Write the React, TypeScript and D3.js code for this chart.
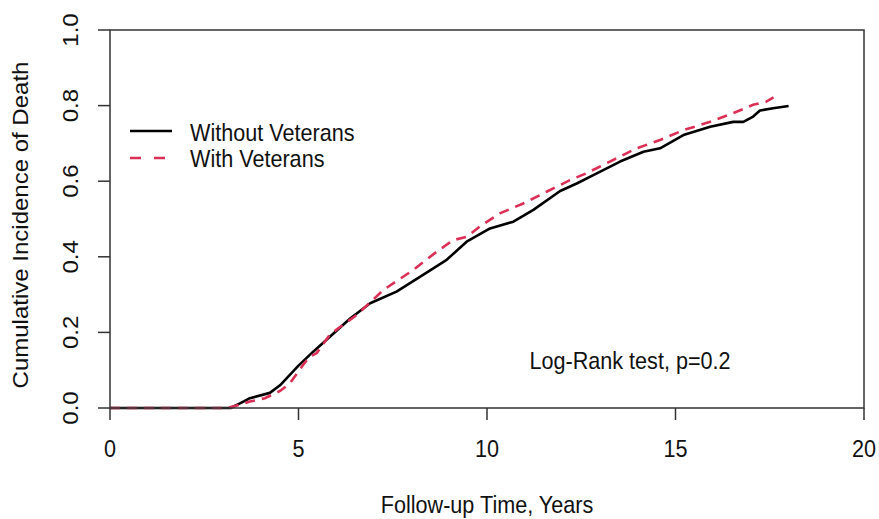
import React from "react";
import * as d3 from "d3";

const withoutVeterans: [number, number][] = [
  [0, 0], [3.2, 0], [3.5, 0.015], [3.71, 0.026], [4.24, 0.04], [4.51, 0.06], [5.0, 0.112],
  [5.39, 0.149], [5.84, 0.189], [6.37, 0.237], [6.9, 0.277], [7.6, 0.308], [8.22, 0.347],
  [8.93, 0.392], [9.46, 0.44], [10.08, 0.475], [10.7, 0.493], [11.23, 0.524], [11.94, 0.574],
  [12.38, 0.594], [12.82, 0.616], [13.53, 0.652], [14.15, 0.678], [14.59, 0.687], [15.21, 0.722],
  [15.92, 0.744], [16.53, 0.757], [16.8, 0.757], [17.06, 0.771], [17.24, 0.787], [17.59, 0.793],
  [18.0, 0.799],
];

const withVeterans: [number, number][] = [
  [0, 0], [3.1, 0], [3.5, 0.01], [3.71, 0.017], [4.11, 0.026], [4.51, 0.045], [4.77, 0.065],
  [5.13, 0.115], [5.3, 0.136], [5.48, 0.145], [5.84, 0.195], [6.54, 0.246], [7.25, 0.312],
  [8.04, 0.365], [8.66, 0.413], [9.1, 0.444], [9.46, 0.453], [9.81, 0.48], [10.34, 0.515],
  [10.96, 0.541], [11.58, 0.572], [12.2, 0.603], [12.64, 0.621], [13.26, 0.652], [13.97, 0.687],
  [14.59, 0.709], [15.21, 0.735], [15.92, 0.757], [16.53, 0.78], [17.06, 0.802], [17.4, 0.81],
  [17.6, 0.822],
];

const xTicks = [0, 5, 10, 15, 20];
const yTicks = [0, 0.2, 0.4, 0.6, 0.8, 1.0];
const seriesNames = ["Without Veterans", "With Veterans"];

const W = 879;
const H = 519;
const left = 110, right = 864, top = 30, bottom = 408;
const FONT = "'Liberation Sans', Arial, sans-serif";
const FS = 24;
const SX = 0.9;
const RED = "#DC2F55";
const AXIS = "#333";

function T({ x, y, anchor = "middle", rotate = false, children }: any) {
  const tr = `translate(${x},${y}) scale(${SX},1)` + (rotate ? " rotate(-90)" : "");
  return (
    <text transform={tr} textAnchor={anchor} fontFamily={FONT} fontSize={FS} fill="#111">
      {children}
    </text>
  );
}

export default function App() {
  const x = d3.scaleLinear().domain([0, 20]).range([left, right]);
  const y = d3.scaleLinear().domain([0, 1]).range([bottom, top]);
  const line = d3
    .line<[number, number]>()
    .x((d) => x(d[0]))
    .y((d) => y(d[1]))
    .curve(d3.curveLinear);

  return (
    <svg width={W} height={H} style={{ position: "absolute", left: 0, top: 0, background: "#fff" }}>
      <rect x={0} y={0} width={W} height={H} fill="#fff" />
      {/* curves */}
      <path d={line(withoutVeterans) || ""} fill="none" stroke="#000" strokeWidth={2.6} strokeLinejoin="round" />
      <path d={line(withVeterans) || ""} fill="none" stroke={RED} strokeWidth={2.6} strokeDasharray="10,7" />
      {/* box */}
      <rect x={left} y={top} width={right - left} height={bottom - top} fill="none" stroke={AXIS} strokeWidth={1.5} />
      {/* x axis ticks */}
      {xTicks.map((t) => (
        <g key={"x" + t}>
          <line x1={x(t)} x2={x(t)} y1={bottom} y2={bottom + 12} stroke={AXIS} strokeWidth={1.5} />
          <T x={x(t)} y={457}>{String(t)}</T>
        </g>
      ))}
      {/* y axis ticks */}
      {yTicks.map((t) => (
        <g key={"y" + t}>
          <line x1={left - 12} x2={left} y1={y(t)} y2={y(t)} stroke={AXIS} strokeWidth={1.5} />
          <T x={78} y={y(t)} rotate>{t.toFixed(1)}</T>
        </g>
      ))}
      {/* axis titles */}
      <T x={(left + right) / 2} y={513}>Follow-up Time, Years</T>
      <T x={28} y={225} rotate>Cumulative Incidence of Death</T>
      {/* legend */}
      <line x1={130} x2={172} y1={131} y2={131} stroke="#000" strokeWidth={2.6} />
      <line x1={130} x2={167} y1={158} y2={158} stroke={RED} strokeWidth={2.6} strokeDasharray="11,13" />
      <T x={190} y={141} anchor="start">{seriesNames[0]}</T>
      <T x={190} y={167} anchor="start">{seriesNames[1]}</T>
      {/* annotation */}
      <T x={630} y={369}>Log-Rank test, p=0.2</T>
    </svg>
  );
}
